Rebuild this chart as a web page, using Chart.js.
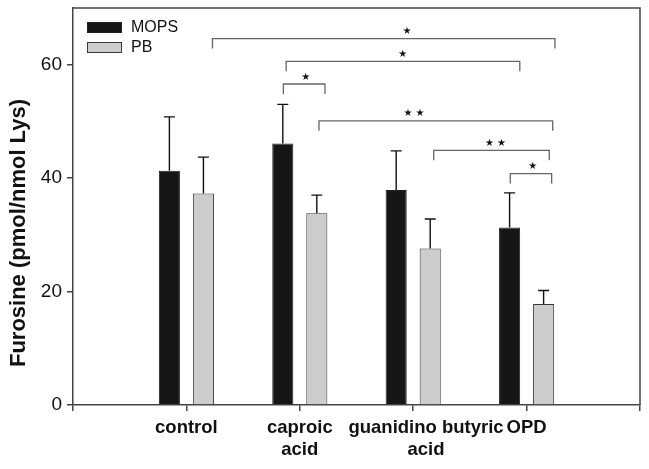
<!DOCTYPE html>
<html>
<head>
<meta charset="utf-8">
<script src="https://cdn.jsdelivr.net/npm/chart.js@4.4.1/dist/chart.umd.min.js"></script>
<style>
  body { margin: 0; background: #fff; }
  #wrap { width: 649px; height: 469px; }
</style>
</head>
<body>
<div id="wrap"><canvas id="myChart" width="649" height="469"></canvas></div>
<script>
// categories (blank slots at both ends so the ticks sit like the original axis)
const groups = ['', 'control', ['caproic', 'acid'], ['     guanidino butyric', '     acid'], 'OPD', ''];
const mops = [null, 41.3, 46.1, 37.9, 31.3, null];
const pb = [null, 37.3, 33.8, 27.6, 17.8, null];
// upper error (SD) for each bar
const mopsErr = [null, 9.5, 6.9, 6.9, 6.1, null];
const pbErr = [null, 6.4, 3.2, 5.2, 2.4, null];
const yTicks = [0, 20, 40, 60];

// significance brackets: from/to/at in category units, y in furosine units
const brackets = [
  { from: 1.23, to: 4.25, y: 64.6, stars: 1, at: 2.945 },
  { from: 1.88, to: 3.94, y: 60.6, stars: 1, at: 2.907 },
  { from: 1.855, to: 2.222, y: 56.6, stars: 1, at: 2.052 },
  { from: 2.169, to: 4.23, y: 50.1, stars: 2, at: 3.007 },
  { from: 3.181, to: 4.20, y: 44.9, stars: 2, at: 3.726 },
  { from: 3.856, to: 4.221, y: 40.8, stars: 1, at: 4.054 }
];

const axisColor = '#444';
const font = 'Liberation Sans, Arial, Helvetica, sans-serif';

const extras = {
  id: 'extras',
  afterDatasetsDraw(chart) {
    const ctx = chart.ctx;
    const ca = chart.chartArea;
    const xs = chart.scales.x, ys = chart.scales.y;
    ctx.save();

    // box round the plot
    ctx.strokeStyle = axisColor;
    ctx.lineWidth = 1.5;
    ctx.beginPath();
    ctx.moveTo(ca.left, ca.top);
    ctx.lineTo(ca.right, ca.top);
    ctx.lineTo(ca.right, ca.bottom);
    ctx.stroke();

    // error bars (upper only)
    const errs = [mopsErr, pbErr];
    chart.data.datasets.forEach((ds, di) => {
      const meta = chart.getDatasetMeta(di);
      meta.data.forEach((bar, i) => {
        if (ds.data[i] == null) return;
        const top = ys.getPixelForValue(ds.data[i] + errs[di][i]);
        ctx.strokeStyle = '#111';
        ctx.lineWidth = 1.4;
        ctx.beginPath();
        ctx.moveTo(bar.x, bar.y);
        ctx.lineTo(bar.x, top);
        ctx.moveTo(bar.x - 5.5, top);
        ctx.lineTo(bar.x + 5.5, top);
        ctx.stroke();
      });
    });

    // brackets
    brackets.forEach(b => {
      const x1 = xs.getPixelForValue(b.from);
      const x2 = xs.getPixelForValue(b.to);
      const y = ys.getPixelForValue(b.y);
      const y2 = ys.getPixelForValue(b.y - 1.75);
      ctx.strokeStyle = '#666';
      ctx.lineWidth = 1.3;
      ctx.beginPath();
      ctx.moveTo(x1, y2);
      ctx.lineTo(x1, y);
      ctx.lineTo(x2, y);
      ctx.lineTo(x2, y2);
      ctx.stroke();
      ctx.fillStyle = '#111';
      ctx.font = '10px DejaVu Sans';
      ctx.textAlign = 'center';
      ctx.textBaseline = 'middle';
      const cx = xs.getPixelForValue(b.at);
      if (b.stars === 1) {
        ctx.fillText('★', cx, y - 7);
      } else {
        ctx.fillText('★', cx - 6, y - 7);
        ctx.fillText('★', cx + 6, y - 7);
      }
    });

    // legend
    const lx = ca.left + 14, ly = ca.top + 14;
    chart.data.datasets.forEach((ds, di) => {
      const by = ly + di * 20;
      ctx.fillStyle = ds.backgroundColor;
      ctx.fillRect(lx, by, 35, 11);
      ctx.strokeStyle = ds.borderColor;
      ctx.lineWidth = 1;
      ctx.strokeRect(lx + 0.5, by + 0.5, 34, 10);
      ctx.fillStyle = '#111';
      ctx.font = '16px ' + font;
      ctx.textAlign = 'left';
      ctx.textBaseline = 'middle';
      ctx.fillText(ds.label, lx + 44, by + 6);
    });

    // y axis title
    ctx.translate(25, 233);
    ctx.rotate(-Math.PI / 2);
    ctx.fillStyle = '#111';
    ctx.font = 'bold 22px ' + font;
    ctx.textAlign = 'center';
    ctx.textBaseline = 'alphabetic';
    ctx.fillText('Furosine (pmol/nmol Lys)', 0, 0);

    ctx.restore();
  }
};

const ctx = document.getElementById('myChart').getContext('2d');
const myChart = new Chart(ctx, {
  type: 'bar',
  data: {
    labels: groups,
    datasets: [
      {
        label: 'MOPS',
        data: mops,
        backgroundColor: '#161616',
        borderColor: '#222',
        borderWidth: 1
      },
      {
        label: 'PB',
        data: pb,
        backgroundColor: '#cdcdcd',
        borderColor: '#3a3a3a',
        borderWidth: 1
      }
    ]
  },
  plugins: [extras],
  options: {
    responsive: false,
    animation: false,
    layout: { padding: { top: 8, right: 9, left: 0, bottom: 0 } },
    datasets: {
      bar: { categoryPercentage: 0.6, barPercentage: 0.62 }
    },
    plugins: {
      legend: { display: false },
      tooltip: { enabled: false }
    },
    scales: {
      x: {
        type: 'category',
        offset: false,
        afterFit: s => { s.height = 64; s.paddingLeft = 0; s.paddingRight = 0; },
        grid: { offset: false, drawOnChartArea: false, tickLength: 6, color: axisColor, lineWidth: 1.5 },
        border: { color: axisColor, width: 1.5 },
        ticks: {
          autoSkip: false,
          maxRotation: 0,
          padding: 6,
          color: '#111',
          font: { family: font, size: 18.5, weight: 'bold' }
        }
      },
      y: {
        min: 0,
        max: 70,
        afterFit: s => { s.width = 73; s.paddingTop = 0; s.paddingBottom = 0; },
        afterBuildTicks: s => { s.ticks = yTicks.map(v => ({ value: v })); },
        grid: { drawOnChartArea: false, tickLength: 6, color: axisColor, lineWidth: 1.5 },
        border: { color: axisColor, width: 1.5 },
        ticks: {
          padding: 5,
          color: '#111',
          font: { family: font, size: 19 }
        }
      }
    }
  }
});
</script>
</body>
</html>
